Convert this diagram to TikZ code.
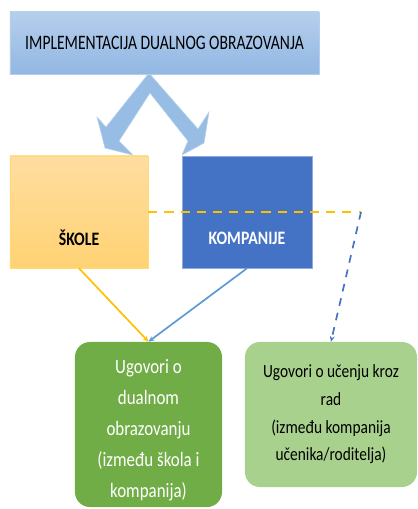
\documentclass[tikz,border=0pt]{standalone}
\usepackage{fontspec}
\setmainfont{Carlito}[FakeStretch=0.83]
\newfontfamily\titlefont{Carlito}[FakeStretch=0.76]
\usetikzlibrary{arrows.meta}
\definecolor{impltop}{RGB}{182,206,236}
\definecolor{implbot}{RGB}{146,184,227}
\definecolor{chevblue}{RGB}{152,189,228}
\definecolor{skoletop}{RGB}{255,221,160}
\definecolor{skolebot}{RGB}{255,210,115}
\definecolor{gold}{RGB}{255,192,0}
\definecolor{kompblue}{RGB}{68,114,196}
\definecolor{lineblue}{RGB}{91,155,213}
\definecolor{darkgreen}{RGB}{112,173,71}
\definecolor{lightgreen}{RGB}{169,209,142}
\tikzset{
	box/.style={rectangle, inner sep=0pt},
	labfont/.style={font=\bfseries\fontsize{13.5}{16}\selectfont},
	link/.style={line width=1.2pt, -{Stealth[length=4pt,width=3.5pt]}}
}

\begin{document}
\begin{tikzpicture}[x=0.025cm, y=-0.025cm]
	%%%%% START %%%%%
	\useasboundingbox (0,0) rectangle (418,509);
	
	% double arrow under the title
	\draw[fill=chevblue, draw=chevblue!70!white] (149,73) -- (106,127) -- (97,117) -- (105,148) -- (133,155) -- (119,141) -- (150,93) -- (188,141) -- (182,155) -- (204,143) -- (209,112) -- (198,129) -- cycle;
	
	\node[box, top color=impltop, bottom color=implbot, draw=impltop, minimum width=7.725cm, minimum height=1.55cm, font=\titlefont\fontsize{14.6}{17}\selectfont] (impl) at (164.5,43) {IMPLEMENTACIJA DUALNOG OBRAZOVANJA};
	
	\node[box, top color=skoletop, bottom color=skolebot, draw=gold!55, minimum width=3.45cm, minimum height=2.8cm, label={[labfont, yshift=-0.65cm]center:ŠKOLE}] (skole) at (79,212) {};
	\node[box, fill=kompblue, draw=kompblue!60!white, minimum width=3.25cm, minimum height=2.8cm, label={[labfont, text=white, yshift=-0.65cm]center:KOMPANIJE}] (komp) at (247,212) {};
	
	\node[box, fill=darkgreen, rounded corners=0.375cm, minimum width=3.675cm, minimum height=4.125cm, label={[align=center, text=white, font=\fontsize{14.5}{22}\selectfont, yshift=-0.14cm]center:Ugovori o\\dualnom\\obrazovanju\\(između škola i\\kompanija)}] (ugovor1) at (148.5,424.5) {};
	\node[box, fill=lightgreen, rounded corners=0.375cm, minimum width=4.3cm, minimum height=3.625cm, align=center, font=\fontsize{13.2}{19.7}\selectfont] (ugovor2) at (331,414.5) {Ugovori o učenju kroz\\rad\\(između kompanija\\učenika/roditelja)};
	
	\draw[link, gold] (skole.south) -- (ugovor1.north);
	\draw[link, lineblue] (komp.south) -- (ugovor1.north);
	
	\coordinate (bend) at (361,212);
	\draw[gold, line width=1.8pt, dash pattern=on 6.5pt off 5pt] (skole.east) -- (bend);
	\draw[link, kompblue, dash pattern=on 5.5pt off 5pt] (bend) -- (ugovor2.north);
	%%%%% END %%%%%
\end{tikzpicture}
\end{document}
